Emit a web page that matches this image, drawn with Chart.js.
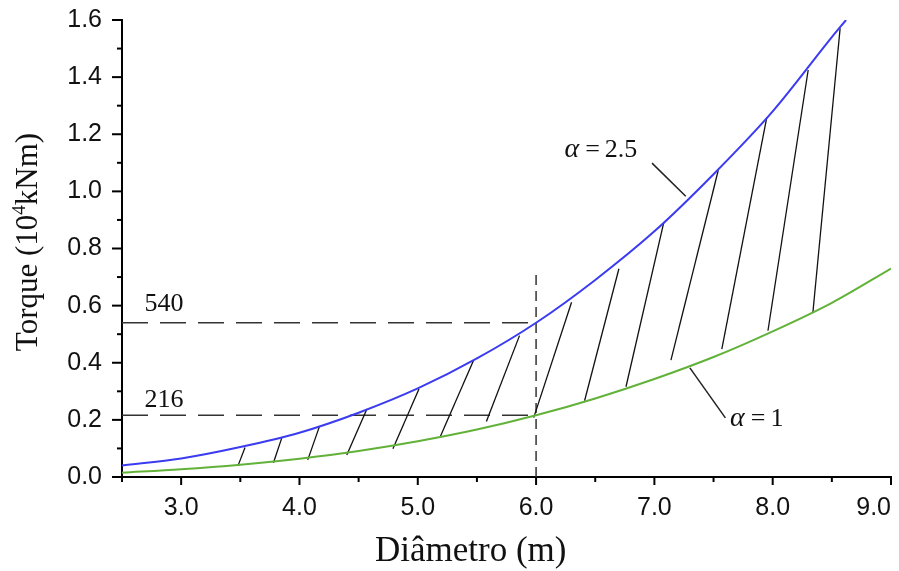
<!DOCTYPE html>
<html>
<head>
<meta charset="utf-8">
<script src="https://cdn.jsdelivr.net/npm/chart.js@4.4.0/dist/chart.umd.min.js"></script>
<style>
  html, body { margin: 0; padding: 0; background: #fff; }
</style>
</head>
<body>
<canvas id="torqueChart" width="899" height="571"></canvas>
<script>
// Diâmetro (m) x Torque (10^4 kNm)
const diamBlue = [2.5, 3.0, 3.5, 4.0, 4.5, 5.0, 5.5, 6.0, 6.5, 7.0, 7.5, 8.0, 8.5, 8.62];
const torqueBlue = [0.04, 0.065, 0.105, 0.155, 0.225, 0.31, 0.415, 0.54, 0.69, 0.86, 1.06, 1.28, 1.54, 1.60];

const diamGreen = [2.5, 3.0, 3.5, 4.0, 4.5, 5.0, 5.5, 6.0, 6.5, 7.0, 7.5, 8.0, 8.5, 9.0];
const torqueGreen = [0.015, 0.027, 0.043, 0.064, 0.091, 0.125, 0.166, 0.216, 0.275, 0.343, 0.42, 0.51, 0.61, 0.73];

// linhas da hachura (ponto na curva verde -> ponto na curva azul)
const hatchLowX  = [3.48, 3.78, 4.07, 4.40, 4.79, 5.19, 5.58, 5.98, 6.41, 6.76, 7.14, 7.57, 7.96, 8.34];
const hatchLowY  = [0.039, 0.050, 0.060, 0.077, 0.099, 0.141, 0.194, 0.208, 0.267, 0.316, 0.409, 0.448, 0.512, 0.577];
const hatchHighX = [3.54, 3.85, 4.17, 4.57, 5.01, 5.47, 5.86, 6.30, 6.70, 7.08, 7.54, 7.95, 8.30, 8.57];
const hatchHighY = [0.103, 0.136, 0.178, 0.238, 0.308, 0.407, 0.495, 0.612, 0.729, 0.892, 1.074, 1.259, 1.425, 1.571];

// linhas de referência tracejadas
const refDiam = 6.0;
const refTorque = [0.54, 0.216];
const refLabels = ['540', '216'];
const refVerticalTop = 0.725;

// linhas de chamada das legendas
const callouts = [
  { label: '2.5', x: [6.98, 7.265], y: [1.099, 0.983] },
  { label: '1',   x: [7.30, 7.60],  y: [0.382, 0.207] }
];

const xMin = 2.5, xMax = 9.0;
const yMin = 0, yMax = 1.6;

const toPoints = (xs, ys) => xs.map((x, i) => ({ x, y: ys[i] }));

const datasets = [];

datasets.push({
  data: toPoints(diamBlue, torqueBlue),
  borderColor: '#3b3bf0',
  borderWidth: 2,
  cubicInterpolationMode: 'monotone'
});
datasets.push({
  data: toPoints(diamGreen, torqueGreen),
  borderColor: '#62b23a',
  borderWidth: 2,
  cubicInterpolationMode: 'monotone'
});

hatchLowX.forEach((x, i) => {
  datasets.push({
    data: [{ x, y: hatchLowY[i] }, { x: hatchHighX[i], y: hatchHighY[i] }],
    borderColor: '#111',
    borderWidth: 1.3
  });
});

refTorque.forEach(t => {
  datasets.push({
    data: [{ x: xMin, y: t }, { x: refDiam, y: t }],
    borderColor: '#333',
    borderWidth: 1.5,
    borderDash: [26, 12]
  });
});
datasets.push({
  data: [{ x: refDiam, y: yMin }, { x: refDiam, y: refVerticalTop }],
  borderColor: '#333',
  borderWidth: 1.5,
  borderDash: [10, 6]
});

callouts.forEach(c => {
  datasets.push({
    data: toPoints(c.x, c.y),
    borderColor: '#222',
    borderWidth: 1.5
  });
});

// marcas dos eixos (maiores nos valores com rótulo)
const axisTicks = {
  id: 'axisTicks',
  afterDraw(chart) {
    const { ctx, scales: { x, y } } = chart;
    ctx.save();
    ctx.strokeStyle = '#000';
    ctx.lineWidth = 2;
    x.ticks.forEach(t => {
      const px = x.getPixelForValue(t.value);
      const major = Math.abs(t.value - Math.round(t.value)) < 1e-6;
      ctx.beginPath();
      ctx.moveTo(px, x.top);
      ctx.lineTo(px, x.top + (major ? 8 : 5));
      ctx.stroke();
    });
    y.ticks.forEach(t => {
      const py = y.getPixelForValue(t.value);
      const major = Math.round(t.value * 10) % 2 === 0;
      ctx.beginPath();
      ctx.moveTo(y.right, py);
      ctx.lineTo(y.right - (major ? 10 : 5), py);
      ctx.stroke();
    });
    ctx.restore();
  }
};

// textos: títulos dos eixos, 540/216 e alfas
const chartTexts = {
  id: 'chartTexts',
  afterDraw(chart) {
    const { ctx, scales: { x, y } } = chart;
    ctx.save();
    ctx.fillStyle = '#111';
    ctx.textBaseline = 'alphabetic';

    // valores de referência
    ctx.font = '26px "Liberation Serif"';
    ctx.textAlign = 'left';
    ctx.fillText(refLabels[0], x.getPixelForValue(2.69), y.getPixelForValue(refTorque[0]) - 12);
    ctx.fillText(refLabels[1], x.getPixelForValue(2.69), y.getPixelForValue(refTorque[1]) - 8);

    // legendas alfa
    const alphaLabel = (txt, xv, yv) => {
      let px = x.getPixelForValue(xv);
      const py = y.getPixelForValue(yv);
      ctx.font = 'italic 28px "Liberation Serif"';
      ctx.fillText('\u03b1', px, py);
      px += ctx.measureText('\u03b1').width + 6;
      ctx.font = '26px "Liberation Serif"';
      ctx.fillText('=', px, py);
      px += ctx.measureText('=').width + 5;
      ctx.fillText(txt, px, py);
    };
    alphaLabel(callouts[0].label, 6.24, 1.12);
    alphaLabel(callouts[1].label, 7.64, 0.18);

    // título eixo x
    ctx.font = '35px "Liberation Serif"';
    ctx.fillText('Diâmetro (m)', 375, 561);

    // título eixo y, com expoente
    ctx.translate(37, 242);
    ctx.rotate(-Math.PI / 2);
    const big = '31px "Liberation Serif"';
    const small = '19px "Liberation Serif"';
    ctx.font = big;
    const w1 = ctx.measureText('Torque (10').width;
    const w3 = ctx.measureText('kNm)').width;
    ctx.font = small;
    const w2 = ctx.measureText('4').width;
    let sx = -(w1 + w2 + w3) / 2;
    ctx.font = big;
    ctx.fillText('Torque (10', sx, 0);
    sx += w1;
    ctx.font = small;
    ctx.fillText('4', sx, -12);
    sx += w2;
    ctx.font = big;
    ctx.fillText('kNm)', sx, 0);
    ctx.restore();
  }
};

new Chart(document.getElementById('torqueChart'), {
  type: 'line',
  data: { datasets },
  options: {
    responsive: false,
    animation: false,
    devicePixelRatio: 1,
    layout: { padding: { top: 20, right: 8, left: 0, bottom: 0 } },
    elements: { point: { radius: 0 }, line: { fill: false } },
    plugins: {
      legend: { display: false },
      tooltip: { enabled: false }
    },
    scales: {
      x: {
        type: 'linear',
        min: xMin,
        max: xMax,
        afterFit: s => { s.height = 94; s.paddingLeft = 0; s.paddingRight = 0; },
        grid: { display: true, drawOnChartArea: false, drawTicks: false },
        border: { display: true, color: '#000', width: 2 },
        ticks: {
          stepSize: 0.5,
          autoSkip: false,
          maxRotation: 0,
          align: 'inner',
          padding: 16,
          color: '#111',
          font: { family: '"Liberation Sans"', size: 25 },
          callback: v => Math.abs(v - Math.round(v)) < 1e-6 && v > xMin ? v.toFixed(1) : ''
        }
      },
      y: {
        type: 'linear',
        min: yMin,
        max: yMax,
        afterFit: s => { s.width = 122; s.paddingTop = 0; s.paddingBottom = 0; },
        grid: { display: true, drawOnChartArea: false, drawTicks: false },
        border: { display: true, color: '#000', width: 2 },
        ticks: {
          stepSize: 0.1,
          autoSkip: false,
          padding: 20,
          color: '#111',
          font: { family: '"Liberation Sans"', size: 25 },
          callback: v => Math.round(v * 10) % 2 === 0 ? v.toFixed(1) : ''
        }
      }
    }
  },
  plugins: [axisTicks, chartTexts]
});
</script>
</body>
</html>
